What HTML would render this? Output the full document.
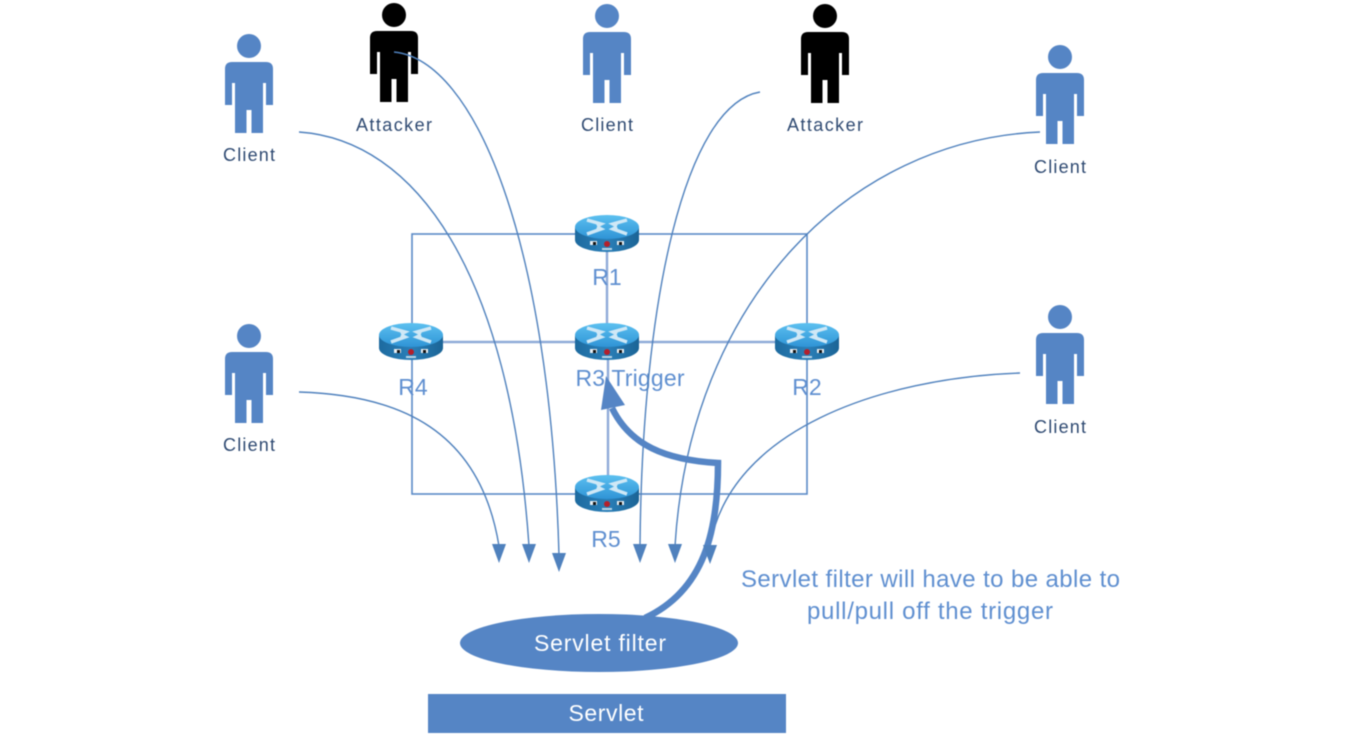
<!DOCTYPE html>
<html>
<head>
<meta charset="utf-8">
<style>
html,body{margin:0;padding:0;background:#fff;width:1350px;height:743px;overflow:hidden}
svg{display:block;filter:blur(0.4px)}
text{font-family:"Liberation Sans",sans-serif}
.c{font-size:18px;fill:#2f4a72;text-anchor:middle}
.l{font-size:23px;fill:#5f8fd0;text-anchor:middle}
.s{font-size:24px;fill:#5f8fd0;text-anchor:middle}
.w{font-size:23px;fill:#fff;text-anchor:middle}
.t{fill:none;stroke:#4f81bd;stroke-width:1.4}
</style>
</head>
<body>
<svg width="1350" height="743" viewBox="0 0 1350 743" xmlns="http://www.w3.org/2000/svg">
<defs>
<linearGradient id="top" x1="0" y1="0" x2="0" y2="1">
<stop offset="0" stop-color="#5cc0f0"/><stop offset="1" stop-color="#2f94d6"/>
</linearGradient>
<linearGradient id="side" x1="0" y1="0" x2="1" y2="0">
<stop offset="0" stop-color="#1d6a9f"/><stop offset=".5" stop-color="#2a7fb8"/><stop offset="1" stop-color="#1b6496"/>
</linearGradient>
<g id="person">
<circle cx="0" cy="0" r="12"/>
<path d="M-17 16 H17 Q24 16 24 23 V59 H17 V37 H14 V87 H2.500 V64 H-2.500 V87 H-14 V37 H-17 V59 H-24 V23 Q-24 16 -17 16 Z"/>
</g>
<g id="router">
<path d="M-32 12 V25 A32 12 0 0 0 32 25 V12 Z" fill="url(#side)"/>
<ellipse cx="0" cy="12" rx="32" ry="12" fill="url(#top)"/>
<path d="M-20 5 L-6 9 L-10 11 M20 5 L6 9 L10 11 M-20 19 L-6 14 L-10 12 M20 19 L6 14 L10 12" fill="none" stroke="#cfe8f6" stroke-width="3.500"/>
<rect x="-17" y="26" width="7" height="4" fill="#e8eef2"/>
<rect x="10" y="26" width="7" height="4" fill="#e8eef2"/>
<rect x="-14" y="27" width="3" height="3" fill="#111"/>
<rect x="12" y="27" width="3" height="3" fill="#111"/>
<circle cx="0" cy="29" r="3" fill="#b3202c"/>
<rect x="-5" y="33" width="10" height="2" fill="#b8d4e6"/>
</g>
</defs>

<rect x="412" y="234" width="395" height="260" fill="none" stroke="#5b8ac6" stroke-width="1.6"/>
<path d="M607 234 V342 M411 342 H807" fill="none" stroke="#8fabd8" stroke-width="2.4"/>
<path d="M608 352 V494" fill="none" stroke="#8fabd8" stroke-width="2.4"/>

<use href="#router" x="607" y="215"/>
<use href="#router" x="607" y="323"/>
<use href="#router" x="411" y="323"/>
<use href="#router" x="807" y="323"/>
<use href="#router" x="607" y="475"/>

<g fill="#5585c5">
<use href="#person" x="249" y="46"/>
<use href="#person" x="607" y="16"/>
<use href="#person" x="1060" y="57"/>
<use href="#person" x="249" y="336"/>
<use href="#person" x="1060" y="317"/>
</g>
<g fill="#000">
<use href="#person" x="394" y="15"/>
<use href="#person" x="825" y="16"/>
</g>

<text class="c" x="249" y="161" textLength="52" lengthAdjust="spacing">Client</text>
<text class="c" x="394" y="131" textLength="76" lengthAdjust="spacing">Attacker</text>
<text class="c" x="607" y="131" textLength="52" lengthAdjust="spacing">Client</text>
<text class="c" x="825" y="131" textLength="76" lengthAdjust="spacing">Attacker</text>
<text class="c" x="1060" y="173" textLength="52" lengthAdjust="spacing">Client</text>
<text class="c" x="249" y="451" textLength="52" lengthAdjust="spacing">Client</text>
<text class="c" x="1060" y="433" textLength="52" lengthAdjust="spacing">Client</text>

<text class="l" x="607" y="285">R1</text>
<text class="l" x="630" y="386" textLength="109" lengthAdjust="spacing">R3 Trigger</text>
<text class="l" x="413" y="395">R4</text>
<text class="l" x="807" y="395">R2</text>
<text class="l" x="606" y="547">R5</text>

<path class="t" d="M299 132 C415 140 510 270 529 546"/>
<path class="t" d="M394 52 C475 60 550 240 559 555"/>
<path class="t" d="M299 392 C400 395 480 430 499 546"/>
<path class="t" d="M760 92 C685 105 642 300 640 546"/>
<path class="t" d="M1040 132 C850 140 690 300 675 546"/>
<path class="t" d="M1020 373 C880 378 730 430 710 546"/>

<ellipse cx="599" cy="643" rx="139" ry="29" fill="#5585c5"/>
<rect x="428" y="694" width="358" height="39" fill="#5585c5"/>

<path d="M645 618 C705 590 718 530 718 463 C665 460 630 445 612 408" fill="none" stroke="#5585c5" stroke-width="6.5"/>
<path d="M606 376 L601 410 L625 405 Z" fill="#5585c5"/>

<g fill="#4f81bd">
<path d="M492 544 H506 L499 563 Z"/>
<path d="M522 544 H536 L529 563 Z"/>
<path d="M552 553 H566 L559 572 Z"/>
<path d="M633 544 H647 L640 563 Z"/>
<path d="M668 544 H682 L675 563 Z"/>
<path d="M703 545 H717 L710 564 Z"/>
</g>

<text class="w" x="600" y="651" textLength="132" lengthAdjust="spacing">Servlet filter</text>
<text class="w" x="606" y="721" textLength="75" lengthAdjust="spacing">Servlet</text>

<text class="s" x="930.500" y="587" textLength="379" lengthAdjust="spacing">Servlet filter will have to be able to</text>
<text class="s" x="930" y="619" textLength="246" lengthAdjust="spacing">pull/pull off the trigger</text>
</svg>
</body>
</html>
